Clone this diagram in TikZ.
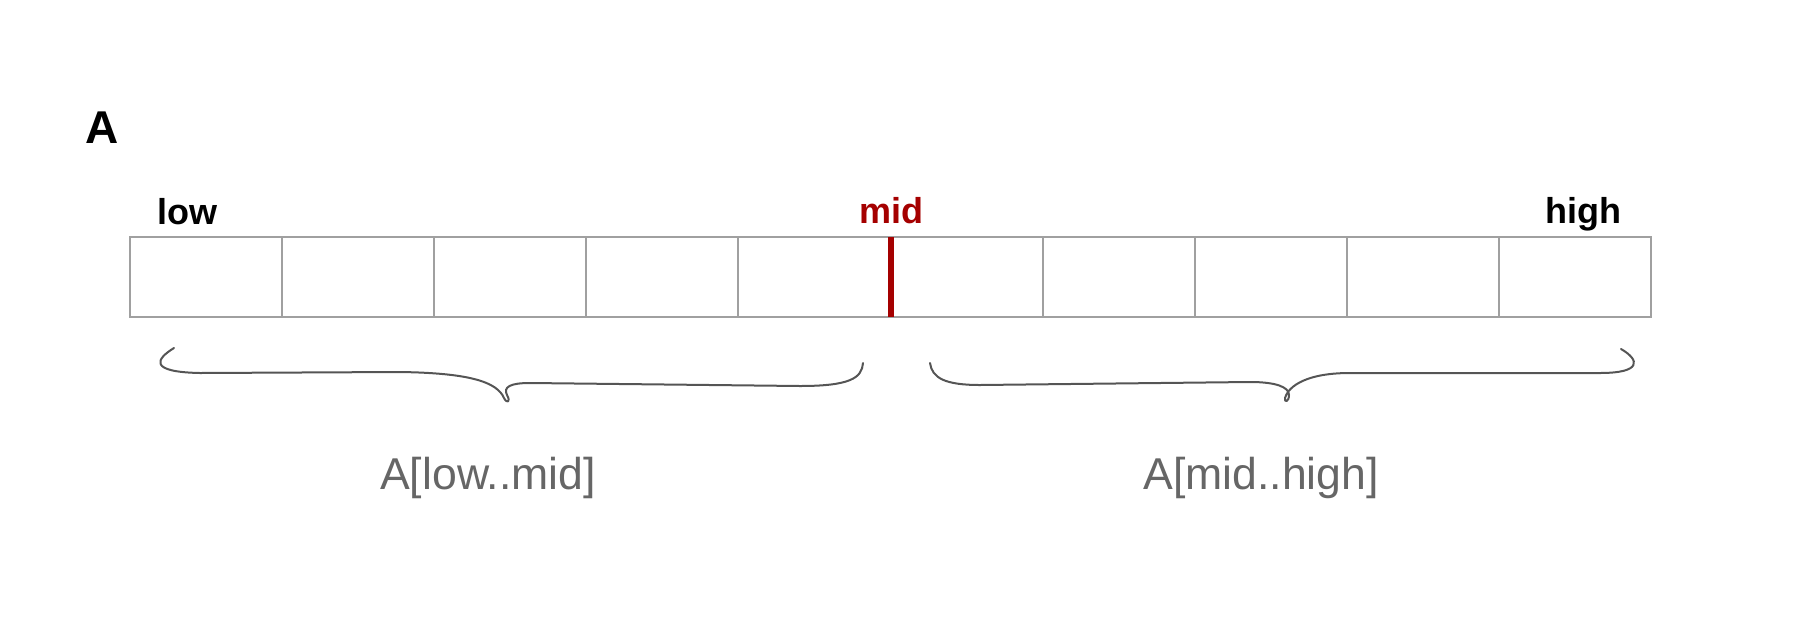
\documentclass[tikz,border=0pt]{standalone}
\usepackage{fontspec}
\setmainfont{Liberation Sans}
\definecolor{cellgray}{HTML}{A0A0A0}
\definecolor{midred}{HTML}{A50000}
\definecolor{bracegray}{HTML}{555555}
\definecolor{labelgray}{HTML}{666666}
\begin{document}
\begin{tikzpicture}[
    x=0.5pt, y=-0.5pt,
    cell/.style={rectangle, draw=cellgray, line width=1pt, minimum width=76.05pt, minimum height=40pt, inner sep=0pt, outer sep=0pt},
    idx/.style={font=\fontsize{18}{21}\selectfont\bfseries, anchor=base, inner sep=0pt},
    midline/.style={midred, line width=3pt},
    bracepath/.style={bracegray, line width=1pt, line cap=round, line join=round},
    part/.style={font=\fontsize{22.3}{26}\selectfont, text=labelgray, anchor=base, inner sep=0pt}
]
\useasboundingbox (0,0) rectangle (1816,628);
% 数组名
\node[font=\fontsize{23}{27}\selectfont\bfseries, anchor=base west, inner sep=0pt] (arr) at (85,143) {A};

% 数组单元
\foreach \i in {1,...,10} {
    \node[cell] (c\i) at ({130+(\i-0.5)*152.1},277) {};
}

% 下标
\node[idx] (low) at (187.5,224) {low};
\node[idx, text=midred] (mid) at (891,223) {mid};
\node[idx] (high) at (1583,223) {high};
\draw[midline] (c5.north east) -- (c5.south east);

% 左半部分括号
\draw[bracepath] (174,348) .. controls (156,359) and (148,372) .. (200,373)
    -- (400,372) .. controls (470,373) and (497,382) .. (504,398)
    .. controls (507,404) and (511,402) .. (507,395)
    .. controls (503,387) and (510,383) .. (530,383)
    -- (800,386) .. controls (850,386) and (862,378) .. (863,363);
\node[part] (lefthalf) at (488,489) {A[low..mid]};

% 右半部分括号
\draw[bracepath] (930,363) .. controls (932,378) and (945,385) .. (980,385)
    -- (1250,382) .. controls (1276,382) and (1289,387) .. (1289,395)
    .. controls (1289,402) and (1284,403) .. (1285,398)
    .. controls (1287,390) and (1300,373) .. (1350,373)
    -- (1600,373) .. controls (1642,373) and (1640,360) .. (1621,349);
\node[part] (righthalf) at (1261,489) {A[mid..high]};
\end{tikzpicture}
\end{document}
